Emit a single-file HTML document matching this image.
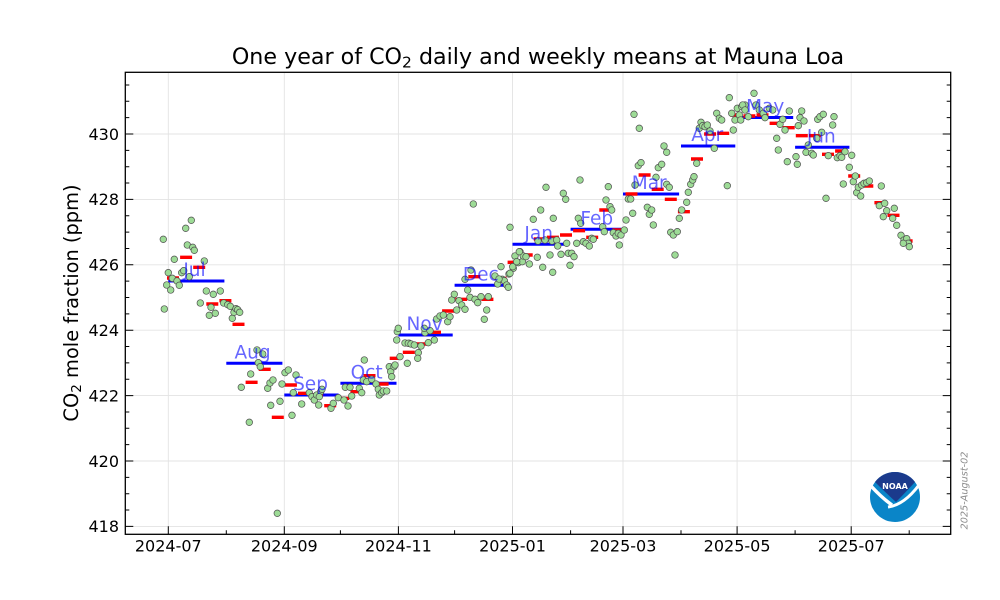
<!DOCTYPE html>
<html><head><meta charset="utf-8"><style>
html,body{margin:0;padding:0;background:#fff;}
svg{display:block;}
text{font-family:"DejaVu Sans","Liberation Sans",sans-serif;}
</style></head><body>
<svg width="1000" height="600" viewBox="0 0 1000 600" xmlns="http://www.w3.org/2000/svg">
<rect x="0" y="0" width="1000" height="600" fill="#fff"/>
<!-- grid -->
<g stroke="#e3e3e3" stroke-width="0.9" fill="none">
<path d="M168.3,72.3V534.3M284.3,72.3V534.3M398.4,72.3V534.3M512.5,72.3V534.3M623,72.3V534.3M737.1,72.3V534.3M851.2,72.3V534.3"/>
<path d="M125.3,526.4H950.7M125.3,461H950.7M125.3,395.6H950.7M125.3,330.2H950.7M125.3,264.8H950.7M125.3,199.4H950.7M125.3,134H950.7"/>
</g>
<!-- monthly means -->
<path fill="none" stroke="#0000ff" stroke-width="3" d="M168.3,281H224.4M226.3,363.3H282.4M284.3,395H338.6M340.4,383.3H396.5M398.4,335H452.7M454.6,285.3H510.7M512.5,244.3H568.6M570.6,229.3H621.1M623,194H679.1M681,146H735.3M737.1,117.5H793.2M795.1,147.3H849.4"/>
<!-- weekly means -->
<path fill="none" stroke="#ff0000" stroke-width="3.4" d="M167,278h12M180.1,257.3h12M193.2,267.3h12M206.3,304h12M219.4,300.7h12M232.5,324.3h12M245.6,382.3h12M258.7,369.3h12M271.8,417.3h12M284.9,385h12M298,393.3h12M311.1,395h12M324.2,405.7h12M337.3,398.3h12M350.4,391.7h12M363.5,375.7h12M376.6,384h12M389.7,358.3h12M402.8,352.3h12M415.9,344h12M429,332.3h12M442.1,311h12M455.2,299.3h12M468.3,276.7h12M481.4,299.3h12M494.5,278.3h12M507.6,262.3h12M520.7,255h12M533.8,239h12M546.9,237.3h12M560,235h12M573.1,230.7h12M586.2,237.3h12M599.3,210h12M612.4,230h12M625.5,194h12M638.6,175h12M651.7,189.3h12M664.8,199.3h12M677.9,211.7h12M691,159h12M704.1,134h12M717.2,133.3h12M730.3,115h12M743.4,116h12M756.5,115h12M769.6,123.3h12M782.7,127.7h12M795.8,135.7h12M808.9,135.7h12M822,154.3h12M835.1,151h12M848.2,176h12M861.3,186h12M874.4,202.7h12M887.5,215.3h12M900.6,241h12"/>
<!-- daily points -->
<g fill="#9ddb96" stroke="#505050" stroke-width="0.7">
<circle cx="163.3" cy="239.3" r="3.3"/><circle cx="164.3" cy="309" r="3.3"/><circle cx="166.7" cy="285" r="3.3"/><circle cx="168.3" cy="272.7" r="3.3"/><circle cx="170.7" cy="290" r="3.3"/><circle cx="172.3" cy="278.3" r="3.3"/><circle cx="174.3" cy="259.3" r="3.3"/><circle cx="177" cy="281" r="3.3"/><circle cx="179.3" cy="285.3" r="3.3"/><circle cx="181.7" cy="272.7" r="3.3"/><circle cx="183.7" cy="270.7" r="3.3"/><circle cx="185.7" cy="228.3" r="3.3"/><circle cx="187.3" cy="245" r="3.3"/><circle cx="189.3" cy="276.7" r="3.3"/><circle cx="191.3" cy="220.3" r="3.3"/><circle cx="192.7" cy="247.3" r="3.3"/><circle cx="194.3" cy="250.3" r="3.3"/><circle cx="200.3" cy="303" r="3.3"/><circle cx="204.3" cy="261" r="3.3"/><circle cx="206.3" cy="291" r="3.3"/><circle cx="209.3" cy="315.3" r="3.3"/><circle cx="211" cy="307.3" r="3.3"/><circle cx="213.3" cy="294.3" r="3.3"/><circle cx="215.3" cy="313.3" r="3.3"/><circle cx="220.3" cy="291" r="3.3"/><circle cx="223.7" cy="303" r="3.3"/><circle cx="227.7" cy="304.7" r="3.3"/><circle cx="230.3" cy="306.3" r="3.3"/><circle cx="232.3" cy="318.3" r="3.3"/><circle cx="234" cy="312.3" r="3.3"/><circle cx="236" cy="308.7" r="3.3"/><circle cx="237.7" cy="309.7" r="3.3"/><circle cx="239.7" cy="312.3" r="3.3"/>
<circle cx="241.3" cy="387.3" r="3.3"/><circle cx="249.3" cy="422.3" r="3.3"/><circle cx="250.7" cy="374" r="3.3"/><circle cx="257" cy="350" r="3.3"/><circle cx="258.3" cy="362.7" r="3.3"/><circle cx="260.3" cy="366.7" r="3.3"/><circle cx="262.7" cy="354" r="3.3"/><circle cx="267.7" cy="388.3" r="3.3"/><circle cx="270" cy="383" r="3.3"/><circle cx="270.7" cy="405.3" r="3.3"/><circle cx="273" cy="380" r="3.3"/><circle cx="280" cy="401.3" r="3.3"/><circle cx="282" cy="384" r="3.3"/><circle cx="277.3" cy="513.3" r="3.3"/><circle cx="285" cy="372.7" r="3.3"/><circle cx="288.3" cy="370" r="3.3"/><circle cx="292" cy="415.3" r="3.3"/><circle cx="293.3" cy="392.7" r="3.3"/><circle cx="296" cy="375" r="3.3"/><circle cx="301.7" cy="404" r="3.3"/><circle cx="309.3" cy="392.7" r="3.3"/><circle cx="312" cy="396.7" r="3.3"/><circle cx="314.3" cy="400" r="3.3"/><circle cx="316.7" cy="395" r="3.3"/><circle cx="318.7" cy="405" r="3.3"/><circle cx="320.7" cy="391.7" r="3.3"/><circle cx="322" cy="389.3" r="3.3"/><circle cx="319.3" cy="396.7" r="3.3"/><circle cx="331" cy="408.3" r="3.3"/><circle cx="333.3" cy="403.3" r="3.3"/><circle cx="338.3" cy="397.7" r="3.3"/><circle cx="344" cy="400" r="3.3"/><circle cx="348" cy="406" r="3.3"/><circle cx="345.3" cy="387.3" r="3.3"/><circle cx="350" cy="387.3" r="3.3"/><circle cx="351.7" cy="396" r="3.3"/><circle cx="359.3" cy="388.3" r="3.3"/><circle cx="361.7" cy="392.7" r="3.3"/><circle cx="364.3" cy="360" r="3.3"/><circle cx="363.3" cy="380" r="3.3"/><circle cx="366.7" cy="381.7" r="3.3"/><circle cx="371.7" cy="379.3" r="3.3"/><circle cx="376" cy="384" r="3.3"/><circle cx="378.3" cy="389.3" r="3.3"/><circle cx="379.3" cy="395" r="3.3"/><circle cx="381.7" cy="392.7" r="3.3"/><circle cx="383.3" cy="391" r="3.3"/><circle cx="386.7" cy="391" r="3.3"/><circle cx="389.3" cy="366.7" r="3.3"/><circle cx="390.7" cy="371.7" r="3.3"/><circle cx="391.7" cy="376.7" r="3.3"/><circle cx="394" cy="366.7" r="3.3"/><circle cx="395" cy="365" r="3.3"/><circle cx="396.7" cy="340" r="3.3"/><circle cx="397.3" cy="331.7" r="3.3"/><circle cx="400" cy="356.7" r="3.3"/><circle cx="405" cy="343" r="3.3"/><circle cx="407.3" cy="363.3" r="3.3"/><circle cx="409.3" cy="343.3" r="3.3"/>
<circle cx="398.3" cy="328.3" r="3.3"/><circle cx="408.3" cy="343.3" r="3.3"/><circle cx="411" cy="344" r="3.3"/><circle cx="414.3" cy="345" r="3.3"/><circle cx="418.3" cy="352.7" r="3.3"/><circle cx="417.7" cy="358.3" r="3.3"/><circle cx="421" cy="346" r="3.3"/><circle cx="428.3" cy="342.7" r="3.3"/><circle cx="434.3" cy="340" r="3.3"/><circle cx="425" cy="332.7" r="3.3"/><circle cx="424.3" cy="328.3" r="3.3"/><circle cx="430" cy="330.7" r="3.3"/><circle cx="436.7" cy="319" r="3.3"/><circle cx="440" cy="316" r="3.3"/><circle cx="443.3" cy="315" r="3.3"/><circle cx="447.7" cy="321.7" r="3.3"/><circle cx="450" cy="316.7" r="3.3"/><circle cx="456.7" cy="310" r="3.3"/><circle cx="451.7" cy="300" r="3.3"/><circle cx="454.3" cy="294.3" r="3.3"/><circle cx="459" cy="300.7" r="3.3"/><circle cx="461.7" cy="305" r="3.3"/><circle cx="465" cy="309.3" r="3.3"/><circle cx="470" cy="297.3" r="3.3"/><circle cx="475" cy="299.3" r="3.3"/><circle cx="477.7" cy="302.7" r="3.3"/><circle cx="481" cy="296.7" r="3.3"/><circle cx="486.7" cy="310" r="3.3"/><circle cx="484.3" cy="319.3" r="3.3"/><circle cx="488.3" cy="296.7" r="3.3"/><circle cx="465" cy="279.3" r="3.3"/><circle cx="467.7" cy="290" r="3.3"/><circle cx="471" cy="270" r="3.3"/><circle cx="473.3" cy="204" r="3.3"/><circle cx="495" cy="276" r="3.3"/><circle cx="497.7" cy="284" r="3.3"/><circle cx="501" cy="266.7" r="3.3"/><circle cx="502.3" cy="279.3" r="3.3"/><circle cx="504.3" cy="280.7" r="3.3"/><circle cx="506.7" cy="285" r="3.3"/><circle cx="508.3" cy="287.3" r="3.3"/><circle cx="509" cy="274" r="3.3"/><circle cx="499" cy="279" r="3.3"/><circle cx="510" cy="227.3" r="3.3"/><circle cx="513.3" cy="268.3" r="3.3"/><circle cx="515" cy="256" r="3.3"/><circle cx="518.3" cy="262.7" r="3.3"/><circle cx="520" cy="251.7" r="3.3"/><circle cx="522.3" cy="261.7" r="3.3"/><circle cx="523.3" cy="256" r="3.3"/>
<circle cx="510" cy="273.3" r="3.3"/><circle cx="512.7" cy="266.7" r="3.3"/><circle cx="516.7" cy="261.7" r="3.3"/><circle cx="519.3" cy="251.7" r="3.3"/><circle cx="526" cy="256.7" r="3.3"/><circle cx="529.3" cy="264" r="3.3"/><circle cx="533.3" cy="219.3" r="3.3"/><circle cx="537.3" cy="257.3" r="3.3"/><circle cx="538" cy="241" r="3.3"/><circle cx="540.7" cy="210" r="3.3"/><circle cx="542.7" cy="267.3" r="3.3"/><circle cx="545" cy="240" r="3.3"/><circle cx="546" cy="187.3" r="3.3"/><circle cx="550" cy="255" r="3.3"/><circle cx="552" cy="241" r="3.3"/><circle cx="552.7" cy="272.3" r="3.3"/><circle cx="553.3" cy="218.3" r="3.3"/><circle cx="556.7" cy="240" r="3.3"/><circle cx="557.7" cy="246" r="3.3"/><circle cx="561" cy="254.3" r="3.3"/><circle cx="563.3" cy="193.3" r="3.3"/><circle cx="565.7" cy="199.3" r="3.3"/><circle cx="566.7" cy="243.3" r="3.3"/><circle cx="568.3" cy="253.3" r="3.3"/><circle cx="571.7" cy="253.3" r="3.3"/><circle cx="574" cy="256.7" r="3.3"/><circle cx="570" cy="265.3" r="3.3"/><circle cx="576.7" cy="243.3" r="3.3"/><circle cx="578.3" cy="218.3" r="3.3"/><circle cx="580" cy="180" r="3.3"/><circle cx="580.7" cy="223.3" r="3.3"/><circle cx="583.3" cy="241.7" r="3.3"/><circle cx="586" cy="243.3" r="3.3"/><circle cx="589.3" cy="246" r="3.3"/><circle cx="591.7" cy="238.3" r="3.3"/><circle cx="593.3" cy="239.3" r="3.3"/><circle cx="602.7" cy="226.7" r="3.3"/><circle cx="604.3" cy="231.7" r="3.3"/><circle cx="606" cy="200" r="3.3"/><circle cx="608.3" cy="186.7" r="3.3"/><circle cx="610" cy="206.7" r="3.3"/><circle cx="611.7" cy="210" r="3.3"/><circle cx="613.3" cy="232.7" r="3.3"/><circle cx="616" cy="236" r="3.3"/><circle cx="618.3" cy="233.3" r="3.3"/><circle cx="619.3" cy="245" r="3.3"/><circle cx="621" cy="235" r="3.3"/><circle cx="624.3" cy="230" r="3.3"/>
<circle cx="626" cy="220" r="3.3"/><circle cx="628.3" cy="199" r="3.3"/><circle cx="630.7" cy="199" r="3.3"/><circle cx="632.7" cy="213.3" r="3.3"/><circle cx="634" cy="114.3" r="3.3"/><circle cx="635" cy="185" r="3.3"/><circle cx="638.3" cy="165.7" r="3.3"/><circle cx="639.3" cy="128.3" r="3.3"/><circle cx="641" cy="162.7" r="3.3"/><circle cx="647.3" cy="207.3" r="3.3"/><circle cx="649.3" cy="214.3" r="3.3"/><circle cx="651.7" cy="210" r="3.3"/><circle cx="653.3" cy="225" r="3.3"/><circle cx="656" cy="177.3" r="3.3"/><circle cx="658.3" cy="167.7" r="3.3"/><circle cx="661.7" cy="164.3" r="3.3"/><circle cx="664" cy="146" r="3.3"/><circle cx="666.7" cy="152.3" r="3.3"/><circle cx="666.7" cy="184.3" r="3.3"/><circle cx="669.3" cy="187.3" r="3.3"/><circle cx="670.7" cy="232.3" r="3.3"/><circle cx="673.3" cy="235" r="3.3"/><circle cx="677.3" cy="231.7" r="3.3"/><circle cx="675" cy="255" r="3.3"/><circle cx="679.3" cy="218.3" r="3.3"/><circle cx="681.7" cy="210" r="3.3"/><circle cx="686.7" cy="202.3" r="3.3"/><circle cx="688.3" cy="192.3" r="3.3"/><circle cx="690.7" cy="184.3" r="3.3"/><circle cx="692.7" cy="180" r="3.3"/><circle cx="694" cy="176.7" r="3.3"/><circle cx="696.7" cy="163.3" r="3.3"/><circle cx="699.3" cy="128.3" r="3.3"/><circle cx="701" cy="122.3" r="3.3"/><circle cx="702.7" cy="125.7" r="3.3"/><circle cx="705" cy="126.7" r="3.3"/><circle cx="707.3" cy="125" r="3.3"/><circle cx="710" cy="131" r="3.3"/><circle cx="714.3" cy="148.3" r="3.3"/><circle cx="716.7" cy="113.3" r="3.3"/><circle cx="719.3" cy="118.3" r="3.3"/><circle cx="721.7" cy="120" r="3.3"/><circle cx="727.3" cy="185.7" r="3.3"/><circle cx="729.3" cy="97.7" r="3.3"/><circle cx="731.7" cy="113.3" r="3.3"/><circle cx="733.3" cy="130" r="3.3"/><circle cx="735" cy="120" r="3.3"/><circle cx="737.3" cy="108.3" r="3.3"/><circle cx="739.3" cy="115" r="3.3"/><circle cx="740.7" cy="120" r="3.3"/><circle cx="741.7" cy="106.7" r="3.3"/><circle cx="745" cy="105" r="3.3"/><circle cx="748.3" cy="116.7" r="3.3"/>
<circle cx="742.7" cy="105" r="3.3"/><circle cx="745" cy="110" r="3.3"/><circle cx="754" cy="93.3" r="3.3"/><circle cx="756" cy="105" r="3.3"/><circle cx="759.3" cy="110" r="3.3"/><circle cx="763.3" cy="113.3" r="3.3"/><circle cx="765" cy="117.7" r="3.3"/><circle cx="769.3" cy="108.3" r="3.3"/><circle cx="772.7" cy="110" r="3.3"/><circle cx="776.7" cy="138.3" r="3.3"/><circle cx="778.3" cy="150" r="3.3"/><circle cx="780" cy="124.3" r="3.3"/><circle cx="782.7" cy="119.3" r="3.3"/><circle cx="785" cy="130" r="3.3"/><circle cx="789.3" cy="111" r="3.3"/><circle cx="787.3" cy="161.7" r="3.3"/><circle cx="796" cy="156.7" r="3.3"/><circle cx="797.3" cy="164.3" r="3.3"/><circle cx="798.3" cy="125.7" r="3.3"/><circle cx="800" cy="117.7" r="3.3"/><circle cx="801.7" cy="111" r="3.3"/><circle cx="804" cy="121" r="3.3"/><circle cx="806" cy="152.3" r="3.3"/><circle cx="808.3" cy="145" r="3.3"/><circle cx="811.7" cy="153.3" r="3.3"/><circle cx="813.3" cy="155" r="3.3"/><circle cx="816.7" cy="138.3" r="3.3"/><circle cx="817.7" cy="119.3" r="3.3"/><circle cx="820" cy="116.7" r="3.3"/><circle cx="823.3" cy="114.3" r="3.3"/><circle cx="821.7" cy="132.3" r="3.3"/><circle cx="826" cy="198.3" r="3.3"/><circle cx="828.3" cy="155.7" r="3.3"/><circle cx="832.7" cy="125" r="3.3"/><circle cx="834" cy="116.7" r="3.3"/><circle cx="837.3" cy="157.7" r="3.3"/><circle cx="840" cy="155.7" r="3.3"/><circle cx="845" cy="151.7" r="3.3"/><circle cx="841.7" cy="157.3" r="3.3"/><circle cx="843.3" cy="184" r="3.3"/>
<circle cx="849.3" cy="167.3" r="3.3"/><circle cx="851.7" cy="155.3" r="3.3"/><circle cx="853.3" cy="181.7" r="3.3"/><circle cx="855.3" cy="176" r="3.3"/><circle cx="856.7" cy="192.7" r="3.3"/><circle cx="858.3" cy="187.3" r="3.3"/><circle cx="860.7" cy="196" r="3.3"/><circle cx="861.7" cy="185" r="3.3"/><circle cx="864" cy="183.3" r="3.3"/><circle cx="866.7" cy="182.7" r="3.3"/><circle cx="869.3" cy="181" r="3.3"/><circle cx="881.3" cy="186" r="3.3"/><circle cx="879.3" cy="205.7" r="3.3"/><circle cx="884.7" cy="203.3" r="3.3"/><circle cx="886.7" cy="210.7" r="3.3"/><circle cx="883.3" cy="216.7" r="3.3"/><circle cx="892.7" cy="218.3" r="3.3"/><circle cx="894.3" cy="208.3" r="3.3"/><circle cx="896.7" cy="225.3" r="3.3"/><circle cx="901" cy="235.3" r="3.3"/><circle cx="904" cy="240" r="3.3"/><circle cx="906.7" cy="238.7" r="3.3"/><circle cx="908.3" cy="243.3" r="3.3"/><circle cx="903.3" cy="243.3" r="3.3"/><circle cx="909.3" cy="246.7" r="3.3"/>
</g>
<!-- month labels -->
<g fill="#0000ff" fill-opacity="0.6" font-size="18.5" text-anchor="middle">
<text x="194.5" y="276">Jul</text><text x="252.5" y="358.3">Aug</text><text x="310.5" y="390">Sep</text><text x="366.6" y="378.3">Oct</text><text x="424.6" y="330">Nov</text><text x="480.8" y="280.3">Dec</text><text x="538.7" y="239.3">Jan</text><text x="596.8" y="224.3">Feb</text><text x="649.2" y="189">Mar</text><text x="707.2" y="141">Apr</text><text x="765.2" y="112.5">May</text><text x="821.3" y="142.3">Jun</text>
</g>
<!-- NOAA logo -->
<g>
<circle cx="895" cy="497" r="25" fill="#0a85c8"/>
<path d="M875,482 A25,25 0 0 1 915,482 Q905,493 896,502 Q886,493 875,482 Z" fill="#1b3a8c"/>
<path d="M871,486 Q882,498 892,505" fill="none" stroke="#fff" stroke-width="3.5"/>
<path d="M888,507 Q904,505 919,485" fill="none" stroke="#fff" stroke-width="3"/>
<text x="895" y="489" font-size="8" font-weight="bold" fill="#fff" text-anchor="middle">NOAA</text>
</g>
<!-- spines -->
<rect x="125.3" y="72.3" width="825.4" height="462" fill="none" stroke="#000" stroke-width="1.3"/>
<!-- ticks -->
<g stroke="#000" stroke-width="1" fill="none">
<path d="M125.3,526.4h8M125.3,461h8M125.3,395.6h8M125.3,330.2h8M125.3,264.8h8M125.3,199.4h8M125.3,134h8"/>
<path d="M125.3,510.05h4M125.3,493.7h4M125.3,477.35h4M125.3,444.65h4M125.3,428.3h4M125.3,411.95h4M125.3,379.25h4M125.3,362.9h4M125.3,346.55h4M125.3,313.85h4M125.3,297.5h4M125.3,281.15h4M125.3,248.45h4M125.3,232.1h4M125.3,215.75h4M125.3,183.05h4M125.3,166.7h4M125.3,150.35h4M125.3,117.65h4M125.3,101.3h4M125.3,84.95h4"/>
<path d="M950.7,526.4h-8M950.7,461h-8M950.7,395.6h-8M950.7,330.2h-8M950.7,264.8h-8M950.7,199.4h-8M950.7,134h-8"/>
<path d="M950.7,510.05h-4M950.7,493.7h-4M950.7,477.35h-4M950.7,444.65h-4M950.7,428.3h-4M950.7,411.95h-4M950.7,379.25h-4M950.7,362.9h-4M950.7,346.55h-4M950.7,313.85h-4M950.7,297.5h-4M950.7,281.15h-4M950.7,248.45h-4M950.7,232.1h-4M950.7,215.75h-4M950.7,183.05h-4M950.7,166.7h-4M950.7,150.35h-4M950.7,117.65h-4M950.7,101.3h-4M950.7,84.95h-4"/>
<path d="M168.3,534.3v-8M284.3,534.3v-8M398.4,534.3v-8M512.5,534.3v-8M623,534.3v-8M737.1,534.3v-8M851.2,534.3v-8"/>
<path d="M226.3,534.3v-4M340.4,534.3v-4M454.6,534.3v-4M570.6,534.3v-4M681,534.3v-4M795.1,534.3v-4M909.2,534.3v-4"/>
</g>
<!-- tick labels -->
<g font-size="16" fill="#000" text-anchor="end">
<text x="119" y="532.2">418</text><text x="119" y="466.8">420</text><text x="119" y="401.4">422</text><text x="119" y="336">424</text><text x="119" y="270.6">426</text><text x="119" y="205.2">428</text><text x="119" y="139.8">430</text>
</g>
<g font-size="16" fill="#000" text-anchor="middle">
<text x="168.3" y="551.7">2024-07</text><text x="284.3" y="551.7">2024-09</text><text x="398.4" y="551.7">2024-11</text><text x="512.5" y="551.7">2025-01</text><text x="623" y="551.7">2025-03</text><text x="737.1" y="551.7">2025-05</text><text x="851.2" y="551.7">2025-07</text>
</g>
<!-- title -->
<text x="538" y="64" font-size="22.2" text-anchor="middle" fill="#000">One year of CO<tspan font-size="15.5" dy="3.5">2</tspan><tspan dy="-3.5"> daily and weekly means at Mauna Loa</tspan></text>
<!-- y label -->
<text transform="translate(78,303) rotate(-90)" font-size="19.4" text-anchor="middle" fill="#000">CO<tspan font-size="13.6" dy="3">2</tspan><tspan dy="-3"> mole fraction (ppm)</tspan></text>
<!-- date stamp -->
<text transform="translate(967.5,490.5) rotate(-90)" font-size="9.7" font-style="italic" text-anchor="middle" fill="#8c8c8c">2025-August-02</text>
</svg>
</body></html>
